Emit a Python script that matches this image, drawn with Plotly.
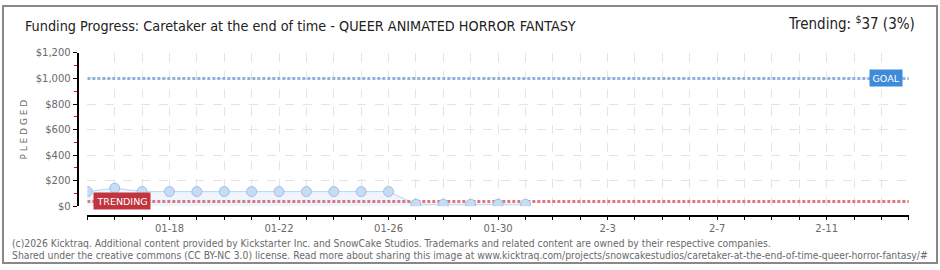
import plotly.graph_objects as go

# ---- data ----
dates = ["2026-01-15", "2026-01-16", "2026-01-17", "2026-01-18", "2026-01-19",
         "2026-01-20", "2026-01-21", "2026-01-22", "2026-01-23", "2026-01-24",
         "2026-01-25", "2026-01-26", "2026-01-27", "2026-01-28", "2026-01-29",
         "2026-01-30", "2026-01-31"]
pledged = [114, 141, 114, 114, 114, 114, 114, 114, 114, 114, 114, 114,
           15, 15, 15, 15, 15]
goal = 1000
trending = 37
x_start, x_end = "2026-01-15", "2026-02-14"

tick_days = ["2026-01-%02d" % d for d in range(15, 32)] + ["2026-02-%02d" % d for d in range(1, 15)]
tick_label_map = {"2026-01-18": "01-18", "2026-01-22": "01-22", "2026-01-26": "01-26",
                  "2026-01-30": "01-30", "2026-02-03": "2-3", "2026-02-07": "2-7",
                  "2026-02-11": "2-11"}
tick_text = [tick_label_map.get(d, " ") for d in tick_days]
y_ticks = [0, 200, 400, 600, 800, 1000, 1200]
y_labels = ["$0", "$200", "$400", "$600", "$800", "$1,000", "$1,200"]

W, H = 940, 270
def px(x): return x / W
def py(y): return 1 - y / H

fig = go.Figure()
# area + line
fig.add_trace(go.Scatter(x=dates, y=pledged, mode="lines", fill="tozeroy",
                         fillcolor="#eef5fd", line=dict(color="#b9d5f1", width=1),
                         hoverinfo="skip", showlegend=False))
# goal line
fig.add_trace(go.Scatter(x=[x_start, x_end], y=[goal, goal], mode="lines",
                         line=dict(color="#8fb2dd", width=3, dash="3px,2px"),
                         showlegend=False))
# trending line
fig.add_trace(go.Scatter(x=[x_start, x_end], y=[trending, trending], mode="lines",
                         line=dict(color="#dc7680", width=3, dash="3px,2px"),
                         showlegend=False))
# markers
fig.add_trace(go.Scatter(x=dates, y=pledged, mode="markers",
                         marker=dict(size=10, color="#c6dcf4", line=dict(color="#9ebfe5", width=1)),
                         showlegend=False))

grey = "#6a6a6a"
fig.update_layout(
    width=W, height=H, margin=dict(l=0, r=0, t=0, b=0),
    paper_bgcolor="white", plot_bgcolor="white",
    font=dict(family="DejaVu Sans", size=10, color=grey),
    xaxis=dict(domain=[px(85.7), px(910.7)], range=[x_start, x_end], type="date",
               tickvals=tick_days, ticktext=tick_text, ticks="outside", ticklen=3,
               tickcolor="black", tickwidth=1,
               showline=True, linecolor="black", linewidth=2,
               showgrid=True, gridcolor="#e4e4e4", griddash="dash", gridwidth=1,
               zeroline=False, anchor="free", position=py(220),
               tickfont=dict(family="DejaVu Sans", size=10, color=grey)),
    yaxis=dict(domain=[py(209.7), py(50)], range=[0, 1200],
               tickvals=y_ticks, ticktext=y_labels, ticks="outside", ticklen=4,
               tickcolor="black", tickwidth=1,
               showline=True, linecolor="black", linewidth=2,
               showgrid=True, gridcolor="#e4e4e4", griddash="dash", gridwidth=1,
               zeroline=False, anchor="free", position=px(76),
               minor=dict(dtick=100, ticks="outside", ticklen=3, tickcolor="red",
                          tickwidth=1, showgrid=False),
               tickfont=dict(family="DejaVu Sans", size=10, color=grey)),
)

anns = [
    dict(x=px(21), y=py(22), xref="paper", yref="paper", xanchor="left", yanchor="middle",
         text="Funding Progress: Caretaker at the end of time - QUEER ANIMATED HORROR FANTASY",
         showarrow=False, font=dict(family="DejaVu Sans Condensed", size=14.3, color="#222222")),
    dict(x=px(919), y=py(19), xref="paper", yref="paper", xanchor="right", yanchor="middle",
         text="Trending: <sup>$</sup>37 (3%)",
         showarrow=False, font=dict(family="DejaVu Sans Condensed", size=15, color="#222222")),
    dict(x=px(22), y=py(130), xref="paper", yref="paper", xanchor="center", yanchor="middle",
         text="P L E D G E D", textangle=-90, showarrow=False,
         font=dict(family="DejaVu Sans", size=9, color=grey)),
    dict(x=px(120.5), y=trending, xref="paper", yref="y", xanchor="center", yanchor="middle",
         text="TRENDING", showarrow=False, bgcolor="#c1353f", borderpad=2.5,
         font=dict(family="DejaVu Sans", size=9.5, color="white")),
    dict(x=px(887.7), y=goal, xref="paper", yref="y", xanchor="center", yanchor="middle",
         text="GOAL", showarrow=False, bgcolor="#3d8bd9", borderpad=2.5,
         font=dict(family="DejaVu Sans", size=9.5, color="white")),
    dict(x=px(8), y=py(248), xref="paper", yref="paper", xanchor="left", yanchor="middle",
         text="(c)2026 Kicktraq. Additional content provided by Kickstarter Inc. and SnowCake Studios. Trademarks and related content are owned by their respective companies.",
         showarrow=False, font=dict(family="DejaVu Sans Condensed", size=10.3, color=grey)),
    dict(x=px(8), y=py(261), xref="paper", yref="paper", xanchor="left", yanchor="middle",
         text="Shared under the creative commons (CC BY-NC 3.0) license. Read more about sharing this image at www.kicktraq.com/projects/snowcakestudios/caretaker-at-the-end-of-time-queer-horror-fantasy/#",
         showarrow=False, font=dict(family="DejaVu Sans Condensed", size=10.3, color=grey)),
]
fig.update_layout(annotations=anns)

fig.add_shape(type="rect", xref="paper", yref="paper", x0=px(1), x1=px(939), y0=py(269), y1=py(1),
              line=dict(color="#888888", width=2), fillcolor="rgba(0,0,0,0)")

fig.write_html("out.html")
